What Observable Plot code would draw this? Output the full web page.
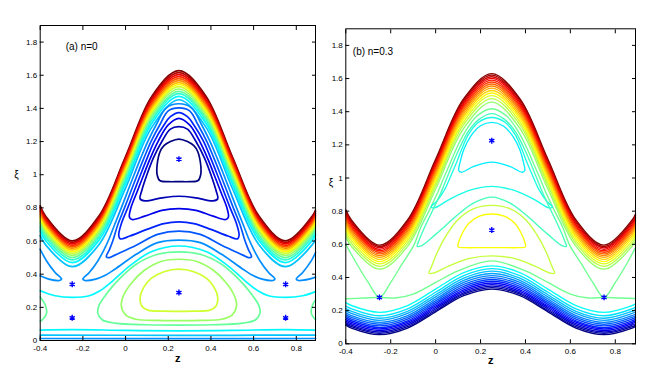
<!DOCTYPE html>
<html><head><meta charset="utf-8">
<script src="https://cdn.jsdelivr.net/npm/d3@7"></script>
<script src="https://cdn.jsdelivr.net/npm/@observablehq/plot@0.6"></script>
<style>
body{margin:0;background:#fff;}
#wrap{position:relative;width:657px;height:384px;overflow:hidden;background:#fff;}
#wrap svg{position:absolute;top:0;}
</style></head><body><div id="wrap"></div>
<script>
const xTicks = [-0.4,-0.2,0,0.2,0.4,0.6,0.8];
const yTicks = [0,0.2,0.4,0.6,0.8,1,1.2,1.4,1.6,1.8];
const bandZ = [-0.4,-0.375,-0.25,-0.125,0,0.125,0.25,0.375,0.5,0.625,0.75,0.875,0.89];

// ---------- panel (a) n=0 ----------
const aBandLevels = [20,19,18,17,16,15,14,13,12,11,10,9,8,7];
const aBandXi = [
[0.812,0.751,0.601,0.751,1.110,1.477,1.628,1.477,1.110,0.751,0.601,0.751,0.787],
[0.802,0.741,0.592,0.741,1.102,1.465,1.616,1.465,1.102,0.741,0.592,0.741,0.777],
[0.791,0.730,0.583,0.730,1.090,1.452,1.604,1.452,1.090,0.730,0.583,0.730,0.766],
[0.780,0.720,0.574,0.720,1.077,1.440,1.592,1.440,1.077,0.720,0.574,0.720,0.755],
[0.769,0.709,0.565,0.709,1.064,1.427,1.580,1.427,1.064,0.709,0.565,0.709,0.745],
[0.758,0.699,0.556,0.699,1.052,1.415,1.568,1.415,1.052,0.699,0.556,0.699,0.734],
[0.746,0.688,0.546,0.688,1.039,1.402,1.556,1.402,1.039,0.688,0.546,0.688,0.722],
[0.735,0.677,0.536,0.677,1.026,1.389,1.544,1.389,1.026,0.677,0.536,0.677,0.711],
[0.722,0.664,0.525,0.664,1.012,1.376,1.531,1.376,1.012,0.664,0.525,0.664,0.698],
[0.708,0.651,0.513,0.651,0.997,1.361,1.517,1.361,0.997,0.651,0.513,0.651,0.684],
[0.694,0.637,0.500,0.637,0.982,1.346,1.503,1.346,0.982,0.637,0.500,0.637,0.670],
[0.678,0.622,0.486,0.622,0.966,1.331,1.489,1.331,0.966,0.622,0.486,0.622,0.655],
[0.660,0.604,0.470,0.604,0.946,1.313,1.472,1.313,0.946,0.604,0.470,0.604,0.637],
[0.633,0.578,0.445,0.578,0.919,1.290,1.452,1.290,0.919,0.578,0.445,0.578,0.610]];

const aLoops = [
[1,[[0.25,1.215],[0.29,1.2],[0.32,1.175],[0.338,1.14],[0.352,1.06],[0.352,1.0],[0.34,0.965],[0.3,0.958],[0.25,0.958],[0.2,0.958],[0.16,0.965],[0.148,1.0],[0.148,1.06],[0.162,1.14],[0.18,1.175],[0.21,1.2]]],
[2,[[0.25,1.29],[0.29,1.275],[0.33,1.2],[0.37,1.1],[0.4,1.0],[0.425,0.9],[0.432,0.855],[0.41,0.842],[0.33,0.86],[0.25,0.87],[0.17,0.86],[0.09,0.842],[0.068,0.855],[0.075,0.9],[0.1,1.0],[0.13,1.1],[0.17,1.2],[0.21,1.275]]],
[3,[[0.25,1.34],[0.3,1.3],[0.348,1.2],[0.384,1.1],[0.415,1.0],[0.445,0.9],[0.475,0.8],[0.482,0.745],[0.47,0.73],[0.41,0.75],[0.33,0.785],[0.25,0.795],[0.17,0.785],[0.09,0.75],[0.03,0.73],[0.018,0.745],[0.025,0.8],[0.055,0.9],[0.085,1.0],[0.116,1.1],[0.152,1.2],[0.2,1.3]]],
[4,[[0.25,1.375],[0.29,1.35],[0.32,1.3],[0.366,1.2],[0.399,1.1],[0.43,1.0],[0.46,0.9],[0.49,0.8],[0.521,0.7],[0.532,0.635],[0.525,0.613],[0.48,0.63],[0.4,0.67],[0.32,0.705],[0.25,0.715],[0.18,0.705],[0.1,0.67],[0.02,0.63],[-0.025,0.613],[-0.032,0.635],[-0.021,0.7],[0.01,0.8],[0.04,0.9],[0.07,1.0],[0.101,1.1],[0.134,1.2],[0.18,1.3],[0.21,1.35]]],
[5,[[0.25,1.403],[0.3,1.385],[0.34,1.3],[0.381,1.2],[0.414,1.1],[0.445,1.0],[0.475,0.9],[0.505,0.8],[0.536,0.7],[0.56,0.6],[0.575,0.55],[0.59,0.505],[0.575,0.5],[0.55,0.515],[0.45,0.575],[0.35,0.64],[0.25,0.66],[0.15,0.64],[0.05,0.575],[-0.05,0.515],[-0.075,0.5],[-0.09,0.505],[-0.075,0.55],[-0.06,0.6],[-0.036,0.7],[-0.005,0.8],[0.025,0.9],[0.055,1.0],[0.086,1.1],[0.119,1.2],[0.16,1.3],[0.2,1.385]]],
[6,[[0.25,1.428],[0.31,1.402],[0.357,1.3],[0.396,1.2],[0.429,1.1],[0.46,1.0],[0.49,0.9],[0.52,0.8],[0.551,0.7],[0.575,0.62],[0.6,0.55],[0.63,0.48],[0.67,0.41],[0.7,0.37],[0.69,0.362],[0.64,0.37],[0.6,0.39],[0.55,0.43],[0.45,0.52],[0.35,0.59],[0.25,0.605],[0.15,0.59],[0.05,0.52],[-0.05,0.43],[-0.1,0.39],[-0.14,0.37],[-0.19,0.362],[-0.2,0.37],[-0.17,0.41],[-0.13,0.48],[-0.1,0.55],[-0.075,0.62],[-0.051,0.7],[-0.02,0.8],[0.01,0.9],[0.04,1.0],[0.071,1.1],[0.104,1.2],[0.143,1.3],[0.19,1.402]]],
[12,[[0.25,0.43],[0.32,0.415],[0.38,0.375],[0.415,0.32],[0.432,0.26],[0.425,0.21],[0.395,0.183],[0.32,0.177],[0.25,0.176],[0.18,0.177],[0.105,0.183],[0.075,0.21],[0.068,0.26],[0.085,0.32],[0.12,0.375],[0.18,0.415]]],
[11,[[0.25,0.49],[0.33,0.478],[0.41,0.425],[0.47,0.35],[0.51,0.27],[0.52,0.21],[0.5,0.155],[0.45,0.128],[0.35,0.121],[0.25,0.12],[0.15,0.121],[0.05,0.128],[0,0.155],[-0.02,0.21],[-0.01,0.27],[0.03,0.35],[0.09,0.425],[0.17,0.478]]],
[10,[[0.25,0.535],[0.35,0.52],[0.45,0.46],[0.53,0.37],[0.59,0.28],[0.625,0.21],[0.63,0.165],[0.61,0.125],[0.55,0.105],[0.4,0.095],[0.25,0.093],[0.1,0.095],[-0.05,0.105],[-0.11,0.125],[-0.13,0.165],[-0.125,0.21],[-0.09,0.28],[-0.03,0.37],[0.05,0.46],[0.15,0.52]]]
];

const aOpen = [
[6,[[-0.4,0.55],[-0.37,0.48],[-0.33,0.41],[-0.3,0.37],[-0.31,0.362],[-0.36,0.37],[-0.4,0.39]]],
[6,[[0.89,0.53],[0.87,0.48],[0.83,0.41],[0.8,0.37],[0.81,0.362],[0.86,0.37],[0.89,0.382]]],
[10,[[-0.4,0.262],[-0.375,0.21],[-0.37,0.165],[-0.39,0.125],[-0.4,0.118]]],
[10,[[0.89,0.244],[0.875,0.21],[0.87,0.165],[0.89,0.125]]],
[8,[[-0.4,0.3],[-0.33,0.27],[-0.25,0.26],[-0.17,0.27],[-0.12,0.3],[-0.06,0.36],[0.02,0.45],[0.12,0.535],[0.25,0.57],[0.38,0.535],[0.48,0.45],[0.56,0.36],[0.62,0.3],[0.67,0.27],[0.75,0.26],[0.83,0.27],[0.89,0.295]]],
[8,[[-0.4,0.063],[-0.25,0.066],[0,0.061],[0.25,0.058],[0.5,0.061],[0.75,0.066],[0.89,0.063]]],
[7,[[-0.4,0.033],[0.25,0.031],[0.89,0.033]]],
[6,[[-0.4,0.012],[0.25,0.011],[0.89,0.012]]]
];
const aStars = [[0.25,1.094],[0.25,0.289],[-0.25,0.339],[-0.25,0.137],[0.75,0.339],[0.75,0.137]];

// ---------- panel (b) n=0.3 ----------
const bBandLevels = [20,19.3,18.6,17.9,17.2,16.5,15.8,15.1,14.4,13.7,13,12.3,11.6,10.9,
                     1,1.6,2.2,2.8,3.4,4,4.6,5.2,5.8,6.4,7,7.6,8.3];
const bBandXi = [
[0.808,0.747,0.595,0.747,1.113,1.478,1.630,1.478,1.113,0.747,0.595,0.747,0.783],
[0.799,0.738,0.587,0.738,1.102,1.469,1.621,1.469,1.102,0.738,0.587,0.738,0.774],
[0.790,0.729,0.579,0.729,1.092,1.458,1.611,1.458,1.092,0.729,0.579,0.729,0.765],
[0.780,0.719,0.570,0.719,1.081,1.448,1.601,1.448,1.081,0.719,0.570,0.719,0.754],
[0.769,0.709,0.561,0.709,1.070,1.436,1.590,1.436,1.070,0.709,0.561,0.709,0.744],
[0.759,0.699,0.552,0.699,1.058,1.425,1.579,1.425,1.058,0.699,0.552,0.699,0.734],
[0.747,0.688,0.542,0.688,1.046,1.412,1.567,1.412,1.046,0.688,0.542,0.688,0.723],
[0.736,0.677,0.532,0.677,1.033,1.400,1.555,1.400,1.033,0.677,0.532,0.677,0.712],
[0.723,0.665,0.521,0.665,1.020,1.386,1.542,1.386,1.020,0.665,0.521,0.665,0.699],
[0.710,0.652,0.509,0.652,1.005,1.372,1.528,1.372,1.005,0.652,0.509,0.652,0.686],
[0.696,0.638,0.496,0.638,0.990,1.357,1.513,1.357,0.990,0.638,0.496,0.638,0.672],
[0.680,0.622,0.482,0.622,0.973,1.340,1.497,1.340,0.973,0.622,0.482,0.622,0.656],
[0.664,0.606,0.467,0.606,0.955,1.322,1.479,1.322,0.955,0.606,0.467,0.606,0.640],
[0.645,0.588,0.450,0.588,0.934,1.300,1.458,1.300,0.934,0.588,0.450,0.588,0.621],
[0.112,0.095,0.055,0.095,0.193,0.290,0.330,0.290,0.193,0.095,0.055,0.095,0.105],
[0.120,0.103,0.063,0.103,0.201,0.299,0.339,0.299,0.201,0.103,0.063,0.103,0.113],
[0.128,0.112,0.071,0.112,0.210,0.307,0.348,0.307,0.210,0.112,0.071,0.112,0.121],
[0.137,0.121,0.080,0.121,0.219,0.316,0.357,0.316,0.219,0.121,0.080,0.121,0.130],
[0.146,0.130,0.089,0.130,0.228,0.326,0.367,0.326,0.228,0.130,0.089,0.130,0.140],
[0.156,0.139,0.098,0.139,0.238,0.336,0.377,0.336,0.238,0.139,0.098,0.139,0.149],
[0.166,0.149,0.108,0.149,0.248,0.347,0.388,0.347,0.248,0.149,0.108,0.149,0.159],
[0.176,0.159,0.118,0.159,0.259,0.358,0.399,0.358,0.259,0.159,0.118,0.159,0.169],
[0.187,0.170,0.129,0.170,0.270,0.370,0.411,0.370,0.270,0.170,0.129,0.170,0.180],
[0.199,0.183,0.141,0.183,0.283,0.383,0.424,0.383,0.283,0.183,0.141,0.183,0.192],
[0.213,0.196,0.154,0.196,0.296,0.396,0.438,0.396,0.296,0.196,0.154,0.196,0.206],
[0.228,0.211,0.169,0.211,0.311,0.411,0.453,0.411,0.311,0.211,0.169,0.211,0.221],
[0.248,0.231,0.190,0.231,0.330,0.429,0.470,0.429,0.330,0.231,0.190,0.231,0.241]];

const bLoops = [
[7.8,[[0.25,1.336],[0.3,1.315],[0.345,1.25],[0.375,1.17],[0.39,1.1],[0.397,1.045],[0.385,1.035],[0.33,1.07],[0.25,1.096],[0.17,1.07],[0.115,1.035],[0.103,1.045],[0.11,1.1],[0.125,1.17],[0.155,1.25],[0.2,1.315]]],
[8.6,[[0.25,1.365],[0.31,1.335],[0.355,1.26],[0.385,1.17],[0.405,1.1],[0.43,1.02],[0.46,0.93],[0.495,0.86],[0.52,0.826],[0.505,0.82],[0.44,0.87],[0.35,0.925],[0.25,0.95],[0.15,0.925],[0.06,0.87],[-0.005,0.82],[-0.02,0.826],[0.005,0.86],[0.04,0.93],[0.07,1.02],[0.095,1.1],[0.115,1.17],[0.145,1.26],[0.19,1.335]]],
[9.4,[[0.25,1.388],[0.305,1.355],[0.355,1.28],[0.39,1.19],[0.42,1.1],[0.45,1.0],[0.48,0.9],[0.515,0.8],[0.55,0.7],[0.575,0.62],[0.582,0.588],[0.565,0.59],[0.5,0.66],[0.4,0.78],[0.33,0.85],[0.25,0.885],[0.17,0.85],[0.1,0.78],[0,0.66],[-0.065,0.59],[-0.082,0.588],[-0.075,0.62],[-0.05,0.7],[-0.015,0.8],[0.02,0.9],[0.05,1.0],[0.08,1.1],[0.11,1.19],[0.145,1.28],[0.195,1.355]]],
[12.8,[[0.25,0.783],[0.305,0.77],[0.35,0.73],[0.38,0.67],[0.398,0.61],[0.4,0.585],[0.37,0.58],[0.3,0.58],[0.25,0.58],[0.2,0.58],[0.13,0.58],[0.1,0.585],[0.102,0.61],[0.12,0.67],[0.15,0.73],[0.195,0.77]]],
[11.8,[[0.25,0.835],[0.33,0.815],[0.4,0.75],[0.45,0.66],[0.49,0.56],[0.52,0.46],[0.53,0.426],[0.51,0.426],[0.44,0.47],[0.35,0.515],[0.25,0.53],[0.15,0.515],[0.06,0.47],[-0.01,0.426],[-0.03,0.426],[-0.02,0.46],[0.01,0.56],[0.05,0.66],[0.1,0.75],[0.17,0.815]]]
];
const bOpen = [
[10.2,[[-0.4,0.6],[-0.35,0.48],[-0.3,0.37],[-0.25,0.28],[-0.2,0.37],[-0.15,0.48],[-0.095,0.6],[-0.067,0.7],[-0.03,0.8],[0.005,0.9],[0.036,1.0],[0.068,1.1],[0.097,1.19],[0.132,1.28],[0.185,1.375],[0.25,1.418],[0.315,1.375],[0.368,1.28],[0.403,1.19],[0.432,1.1],[0.464,1.0],[0.495,0.9],[0.53,0.8],[0.567,0.7],[0.595,0.6],[0.65,0.48],[0.7,0.37],[0.75,0.28],[0.8,0.37],[0.85,0.48],[0.89,0.58]]],
[10.2,[[-0.4,0.272],[-0.32,0.276],[-0.25,0.28],[-0.18,0.276],[-0.1,0.3],[0,0.37],[0.1,0.44],[0.25,0.5],[0.4,0.44],[0.5,0.37],[0.6,0.3],[0.68,0.276],[0.75,0.28],[0.82,0.276],[0.89,0.273]]]
];
const bStars = [[0.25,1.225],[0.25,0.686],[-0.25,0.28],[0.75,0.28]];

// ---------- drawing ----------
function jet(t){
  const c = v => Math.max(0, Math.min(1, v));
  const r = c(1.5 - Math.abs(4*t - 3)), g = c(1.5 - Math.abs(4*t - 2)), b = c(1.5 - Math.abs(4*t - 1));
  return `rgb(${Math.round(r*255)},${Math.round(g*255)},${Math.round(b*255)})`;
}
function buildRows(bandLevels, bandXi, open, loops){
  const openRows = [], closedRows = [];
  let id = 0;
  bandLevels.forEach((lv, i) => { id++; bandZ.forEach((z, j) => openRows.push({id, level: lv, z, xi: bandXi[i][j]})); });
  open.forEach(([lv, pts]) => { id++; pts.forEach(([z, xi]) => openRows.push({id, level: lv, z, xi})); });
  loops.forEach(([lv, pts]) => { id++; pts.forEach(([z, xi]) => closedRows.push({id, level: lv, z, xi})); });
  return {openRows, closedRows};
}
const fmt = d => String(Math.round(d * 10) / 10);
const FONT = "Arial, 'Liberation Sans', Helvetica, sans-serif";

function panel(o){
  const {openRows, closedRows} = buildRows(o.bandLevels, o.bandXi, o.open, o.loops);
  const stars = o.stars.map(([z, xi]) => ({z, xi}));
  const svg = Plot.plot({
    width: o.width, height: 384,
    marginLeft: o.mL, marginRight: o.mR, marginTop: o.mT, marginBottom: o.mB,
    style: {fontFamily: FONT, fontSize: "8px", color: "#000", background: "transparent", overflow: "visible"},
    x: {domain: [-0.4, 0.89]},
    y: {domain: [0, 1.9]},
    color: {type: "linear", domain: [1, 20], interpolate: jet},
    marks: [
      Plot.line(openRows, {x: "z", y: "xi", z: "id", stroke: "level", curve: "catmull-rom", strokeWidth: o.sw}),
      Plot.line(closedRows, {x: "z", y: "xi", z: "id", stroke: "level", curve: "catmull-rom-closed", strokeWidth: o.sw}),
      Plot.dot(stars, {x: "z", y: "xi", symbol: "asterisk", r: 2.8, stroke: "#0000ff", strokeWidth: 1.4}),
      Plot.frame({stroke: "#000", strokeWidth: 1}),
      Plot.axisX({anchor: "bottom", ticks: xTicks, tickSize: -4, tickPadding: 9, tickFormat: fmt, label: null, fontSize: 8}),
      Plot.axisX({anchor: "top", ticks: xTicks, tickSize: -4, tickFormat: () => "", label: null}),
      Plot.axisY({anchor: "left", ticks: yTicks, tickSize: -4, tickPadding: 7, tickFormat: fmt, label: null, fontSize: 8}),
      Plot.axisY({anchor: "right", ticks: yTicks, tickSize: -4, tickFormat: () => "", label: null}),
      Plot.text([o.title], {frameAnchor: "top-left", dx: o.tdx, dy: o.tdy, textAnchor: "start", fontSize: 10}),
      Plot.text(["ξ"], {frameAnchor: "left", dx: o.ydx, dy: o.ydy, fontSize: 10}),
      Plot.text(["z"], {frameAnchor: "bottom", dy: o.xdy, fontSize: 11, fontWeight: "bold"})
    ]
  });
  svg.style.left = o.left + "px";
  document.getElementById("wrap").appendChild(svg);
}

panel({left: 0, width: 330, mL: 39.7, mR: 15, mT: 25, mB: 44, sw: 1.7,
  bandLevels: aBandLevels, bandXi: aBandXi, open: aOpen, loops: aLoops, stars: aStars,
  title: "(a) n=0", tdx: 25.5, tdy: 17, ydx: -26, ydy: -8, xdy: 21.5});
panel({left: 320, width: 337, mL: 25.3, mR: 22, mT: 28.3, mB: 40.7, sw: 1.35,
  bandLevels: bBandLevels, bandXi: bBandXi, open: bOpen, loops: bLoops, stars: bStars,
  title: "(b) n=0.3", tdx: 7, tdy: 19.5, ydx: -17, ydy: -4, xdy: 20});
</script></body></html>
